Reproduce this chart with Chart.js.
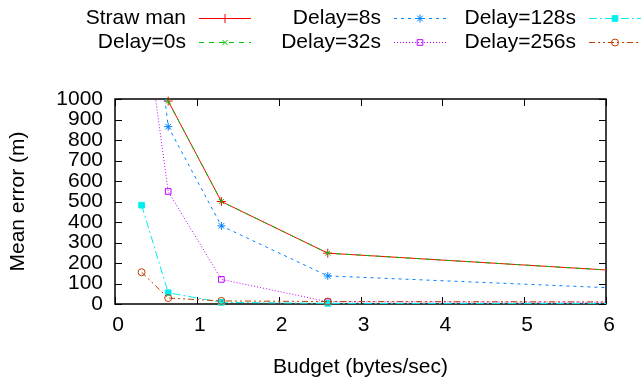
<!DOCTYPE html>
<html>
<head>
<meta charset="utf-8">
<style>
  html, body { margin: 0; padding: 0; background: #fff; }
  #wrap { width: 641px; height: 378px; }
</style>
</head>
<body>
<div id="wrap"><canvas id="grafico" width="641" height="378"></canvas></div>

<script src="https://cdn.jsdelivr.net/npm/chart.js"></script>
<script>
  // valores
  const budget = [0.325, 0.65, 1.3, 2.6, 10.4];
  const strawMan = [null, 990, 500, 248, 60];
  const delay0 = [null, 990, 500, 248, 60];
  const delay8 = [1950, 865, 381, 137, 6];
  const delay32 = [1500, 549, 120, 11, 5];
  const delay128 = [482, 55, 8, 3, 2];
  const delay256 = [155, 29, 15, 12, 8];

  const xTicks = [0, 1, 2, 3, 4, 5, 6];
  const yTicks = [0, 100, 200, 300, 400, 500, 600, 700, 800, 900, 1000];

  const FONT = "'Liberation Sans', Arial, sans-serif";

  const series = [
    { label: "Straw man", data: strawMan, color: "#ff0000", dash: [], point: "cross", fill: false, r: 4.5, top: 5 },
    { label: "Delay=0s", data: delay0, color: "#00c000", dash: [5, 5], point: "crossRot", fill: false, r: 3.5, top: 5 },
    { label: "Delay=8s", data: delay8, color: "#0080ff", dash: [3, 4], point: "star", fill: false, r: 4, top: 0 },
    { label: "Delay=32s", data: delay32, color: "#c000ff", dash: [1, 2], point: "rect", fill: false, r: 4, top: 0 },
    { label: "Delay=128s", data: delay128, color: "#00eeee", dash: [8, 3, 2, 3], point: "rect", fill: true, r: 4, top: 5 },
    { label: "Delay=256s", data: delay256, color: "#c04000", dash: [6, 3, 2, 3, 2, 3], point: "circle", fill: false, r: 3.5, top: 5 },
  ];

  function pontos(valores) {
    return budget
      .map((x, i) => ({ x, y: valores[i] }))
      .filter(p => p.y !== null);
  }

  // ticks para dentro e moldura, estilo gnuplot
  const moldura = {
    id: "moldura",
    beforeDatasetsDraw(chart) {
      const { ctx, chartArea: a, scales } = chart;
      const tl = 7;
      ctx.save();
      ctx.strokeStyle = "#000";
      ctx.lineWidth = 1;
      ctx.beginPath();
      xTicks.forEach(v => {
        const px = Math.round(scales.x.getPixelForValue(v)) + 0.5;
        ctx.moveTo(px, a.bottom); ctx.lineTo(px, a.bottom - tl);
        ctx.moveTo(px, a.top); ctx.lineTo(px, a.top + tl);
      });
      yTicks.forEach(v => {
        const py = Math.round(scales.y.getPixelForValue(v)) + 0.5;
        ctx.moveTo(a.left, py); ctx.lineTo(a.left + tl, py);
        ctx.moveTo(a.right, py); ctx.lineTo(a.right - tl, py);
      });
      ctx.stroke();
      ctx.lineWidth = 1.5;
      ctx.strokeRect(a.left, a.top, a.right - a.left, a.bottom - a.top);
      ctx.restore();
    }
  };

  // legenda em duas linhas e três colunas
  const legenda = {
    id: "legenda",
    afterDraw(chart) {
      const ctx = chart.ctx;
      const colX = [186, 381, 576];
      const rowY = [18, 42];
      ctx.save();
      ctx.font = "21px " + FONT;
      ctx.textBaseline = "middle";
      series.forEach((s, i) => {
        const col = Math.floor(i / 2);
        const row = i % 2;
        const x = colX[col];
        const y = rowY[row];
        ctx.textAlign = "right";
        ctx.fillStyle = "#000";
        ctx.fillText(s.label, x, y);
        const x0 = x + 13, x1 = x + 65;
        ctx.strokeStyle = s.color;
        ctx.lineWidth = 1;
        ctx.setLineDash(s.dash);
        ctx.beginPath();
        ctx.moveTo(x0, y + 0.5);
        ctx.lineTo(x1, y + 0.5);
        ctx.stroke();
        ctx.setLineDash([]);
        ctx.fillStyle = s.fill ? s.color : "rgba(0,0,0,0)";
        ctx.strokeStyle = s.color;
        Chart.helpers.drawPoint(ctx, {
          pointStyle: s.point,
          radius: s.r,
          borderWidth: 1,
          rotation: 0
        }, (x0 + x1) / 2, y + 0.5);
      });
      ctx.restore();
    }
  };

  const ctx = document.getElementById("grafico").getContext("2d");

  new Chart(ctx, {
    type: "line",
    data: {
      datasets: series.map((s, i) => ({
        label: s.label,
        data: pontos(s.data),
        borderColor: s.color,
        backgroundColor: s.fill ? s.color : "rgba(0,0,0,0)",
        borderWidth: 1,
        borderDash: s.dash,
        pointStyle: s.point,
        pointRadius: s.r,
        pointBorderColor: s.color,
        pointBackgroundColor: s.fill ? s.color : "rgba(0,0,0,0)",
        pointBorderWidth: 1,
        tension: 0,
        fill: false,
        order: 10 - i,
        clip: { left: 5, top: s.top, right: 0, bottom: 6 },
      }))
    },
    options: {
      responsive: false,
      animation: false,
      layout: { padding: { top: 99, right: 35, left: 0, bottom: 0 } },
      plugins: {
        legend: { display: false },
        tooltip: { enabled: false },
      },
      scales: {
        x: {
          type: "linear",
          min: 0,
          max: 6,
          afterBuildTicks: s => { s.ticks = xTicks.map(v => ({ value: v })); },
          afterFit: s => { s.height = 74; },
          grid: { display: false, drawTicks: false },
          border: { display: false },
          ticks: {
            color: "#000", padding: 9, labelOffset: 3, autoSkip: false, maxRotation: 0,
            font: { family: FONT, size: 21 },
            callback: v => String(v),
          },
          title: {
            display: true,
            text: "Budget (bytes/sec)",
            color: "#000",
            font: { family: FONT, size: 21 },
            padding: { top: 0, bottom: -2 },
          },
        },
        y: {
          min: 0,
          max: 1000,
          afterBuildTicks: s => { s.ticks = yTicks.map(v => ({ value: v })); },
          afterFit: s => { s.width = 115; },
          grid: { display: false, drawTicks: false },
          border: { display: false },
          ticks: {
            color: "#000", padding: 12, autoSkip: false,
            font: { family: FONT, size: 21 },
            callback: v => String(v),
          },
          title: {
            display: true,
            text: "Mean error (m)",
            color: "#000",
            font: { family: FONT, size: 21 },
            padding: { top: 6, bottom: 0 },
          },
        },
      },
    },
    plugins: [moldura, legenda],
  });
</script>
</body>
</html>
